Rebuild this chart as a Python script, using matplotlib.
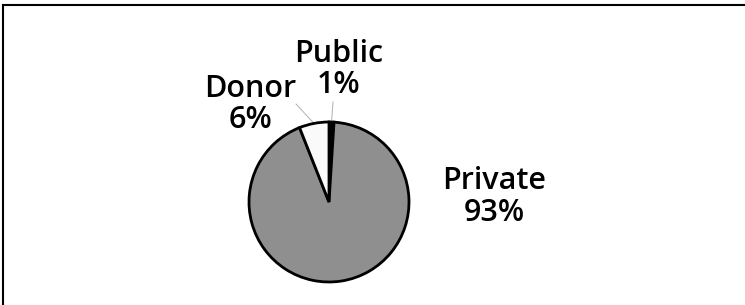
import numpy as np
import matplotlib
import matplotlib.pyplot as plt

matplotlib.use("Agg")

# data, ordered clockwise from 12 o'clock
sources = ["Public", "Private", "Donor"]
shares = [1, 93, 6]
colours = ["#000000", "#8f8f8f", "#fafafa"]

W, H = 745, 305
fig = plt.figure(figsize=(W / 100, H / 100), dpi=100)
ax = fig.add_axes([0, 0, 1, 1])

cx, cy, r = 329, H - 202, 80
wedges, _ = ax.pie(
    shares, colors=colours, startangle=90, counterclock=False,
    center=(cx, cy), radius=r, frame=True,
    wedgeprops=dict(edgecolor="black", linewidth=2.0),
)
ax.set_xlim(0, W)
ax.set_ylim(0, H)
ax.set_aspect("equal")
ax.axis("off")

# label baselines (name line, percent line) and centre x, pixels from top-left
label_pos = {"Public": (339, 62, 93), "Donor": (250, 97, 128), "Private": (494, 189, 221)}
leader_from = {"Public": (333, 102), "Donor": (296, 104)}

font = dict(family="Open Sans", weight="semibold", size=22)
for w, name, pct in zip(wedges, sources, shares):
    x, y1, y2 = label_pos[name]
    ax.text(x, H - y1, name, ha="center", va="baseline", **font)
    ax.text(x, H - y2, f"{pct}%", ha="center", va="baseline", **font)
    if name in leader_from:
        mid = np.deg2rad((w.theta1 + w.theta2) / 2)
        ex, ey = cx + r * np.cos(mid), cy + r * np.sin(mid)
        lx, ly = leader_from[name]
        ax.plot([lx, ex], [H - ly, ey], color="#b0b0b0", lw=0.7, zorder=0)

# frame: only top and left edges show
fig.add_artist(plt.Line2D([3.5 / W, 1], [1 - 5 / H, 1 - 5 / H],
                          transform=fig.transFigure, color="black", lw=1.5))
fig.add_artist(plt.Line2D([3.5 / W, 3.5 / W], [0, 1 - 5 / H],
                          transform=fig.transFigure, color="black", lw=1.5))

fig.savefig("out.png", dpi=100)
